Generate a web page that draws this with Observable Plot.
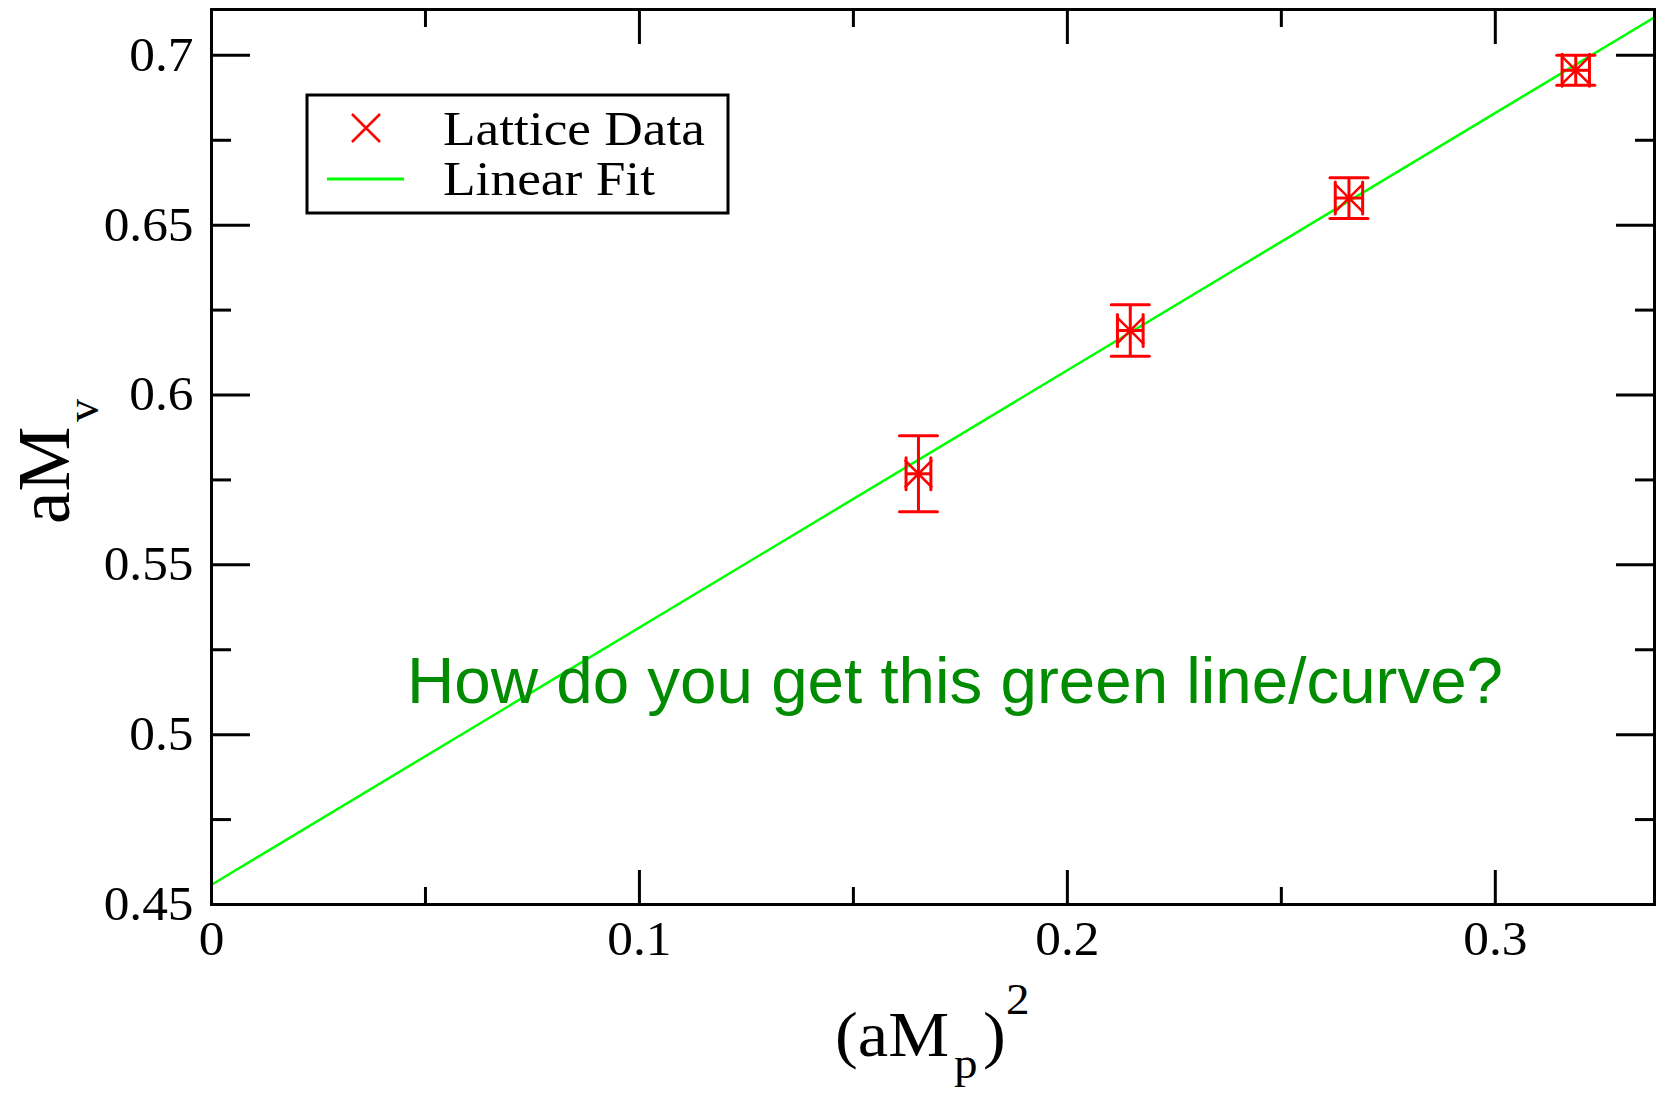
<!DOCTYPE html>
<html>
<head>
<meta charset="utf-8">
<script src="https://cdn.jsdelivr.net/npm/d3@7"></script>
<script src="https://cdn.jsdelivr.net/npm/@observablehq/plot@0.6"></script>
<style>
  body { margin: 0; background: #fff; }
  #chart { position: relative; width: 1657px; height: 1097px; }
</style>
</head>
<body>
<div id="chart"></div>
<script>
// Lattice measurements: (aM_p)^2 against aM_v with errors in both directions
const msq    = [0.1652, 0.2147, 0.2658, 0.3188];
const msqErr = [0.0029, 0.0030, 0.0032, 0.0032];
const mv     = [0.5768, 0.6190, 0.6580, 0.6956];
const mvErr  = [0.0112, 0.0076, 0.0060, 0.0044];

// Linear fit, given by its two end points across the x range
const fitX = [0, 0.3372];
const fitY = [0.4558, 0.7112];

// Axis ticks
const xMajor = [0, 0.1, 0.2, 0.3];
const xMinor = [0.05, 0.15, 0.25];
const yMajor = [0.45, 0.5, 0.55, 0.6, 0.65, 0.7];
const yMinor = [0.475, 0.525, 0.575, 0.625, 0.675];
const xTickLabels = ["0", "0.1", "0.2", "0.3"];
const yTickLabels = ["0.45", "0.5", "0.55", "0.6", "0.65", "0.7"];

const legendLabels = ["Lattice Data", "Linear Fit"];
const note = "How do you get this green line/curve?";

const points = msq.map((x, i) => ({x, y: mv[i], dx: msqErr[i], dy: mvErr[i]}));
const fit = fitX.map((x, i) => ({x, y: fitY[i]}));

const serif = "'Liberation Serif', 'Times New Roman', serif";
const red = "#ff0000";

// A straight stroke of the given length, used for error-bar caps
const bar = {draw(context, l) { context.moveTo(0, 0); context.lineTo(0, -l); }};

const xFmt = d => xTickLabels[xMajor.indexOf(d)];
const yFmt = d => yTickLabels[yMajor.indexOf(d)];

const plot = Plot.plot({
  width: 1657,
  height: 1097,
  marginLeft: 211,
  marginRight: 3,
  marginTop: 9,
  marginBottom: 193,
  x: {domain: [0, 0.3372]},
  y: {domain: [0.45, 0.7135]},
  style: {fontFamily: serif, background: "#fff", color: "#000", overflow: "visible"},
  marks: [
    // fit line
    Plot.line(fit, {x: "x", y: "y", stroke: "#00ff00", strokeWidth: 2.5, clip: true}),

    // vertical error bars with caps
    Plot.ruleX(points, {x: "x", y1: d => d.y - d.dy, y2: d => d.y + d.dy, stroke: red, strokeWidth: 3}),
    Plot.vector(points, {x: "x", y: d => d.y + d.dy, length: 38, rotate: 90, anchor: "middle", shape: bar, stroke: red, strokeWidth: 3}),
    Plot.vector(points, {x: "x", y: d => d.y - d.dy, length: 38, rotate: 90, anchor: "middle", shape: bar, stroke: red, strokeWidth: 3}),

    // horizontal error bars with caps
    Plot.ruleY(points, {y: "y", x1: d => d.x - d.dx, x2: d => d.x + d.dx, stroke: red, strokeWidth: 3}),
    Plot.vector(points, {x: d => d.x - d.dx, y: "y", length: 32, anchor: "middle", shape: bar, stroke: red, strokeWidth: 3}),
    Plot.vector(points, {x: d => d.x + d.dx, y: "y", length: 32, anchor: "middle", shape: bar, stroke: red, strokeWidth: 3}),

    // markers
    Plot.dot(points, {x: "x", y: "y", symbol: "times", r: 12.5, stroke: red, strokeWidth: 2.5}),

    // annotation
    Plot.text([note], {x: 0.0457, y: 0.5092, textAnchor: "start", lineAnchor: "bottom",
      fontFamily: "'Liberation Sans', Arial, sans-serif", fontSize: 65.5, fill: "#008b00"}),

    // tick labels
    Plot.axisX({ticks: xMajor, tickFormat: xFmt, tickSize: 0, tickPadding: 16, fontSize: 48, label: null, className: "widetext"}),
    Plot.axisY({ticks: yMajor, tickFormat: yFmt, tickSize: 0, tickPadding: 18, fontSize: 48, label: null, className: "widetext"}),

    // inward ticks on all four sides
    Plot.axisX({anchor: "bottom", ticks: xMajor, tickSize: -34, tickFormat: () => "", strokeWidth: 3, label: null}),
    Plot.axisX({anchor: "bottom", ticks: xMinor, tickSize: -17, tickFormat: () => "", strokeWidth: 3, label: null}),
    Plot.axisX({anchor: "top", ticks: xMajor, tickSize: -34, tickFormat: () => "", strokeWidth: 3, label: null}),
    Plot.axisX({anchor: "top", ticks: xMinor, tickSize: -17, tickFormat: () => "", strokeWidth: 3, label: null}),
    Plot.axisY({anchor: "left", ticks: yMajor, tickSize: -39, tickFormat: () => "", strokeWidth: 3, label: null}),
    Plot.axisY({anchor: "left", ticks: yMinor, tickSize: -20, tickFormat: () => "", strokeWidth: 3, label: null}),
    Plot.axisY({anchor: "right", ticks: yMajor, tickSize: -39, tickFormat: () => "", strokeWidth: 3, label: null}),
    Plot.axisY({anchor: "right", ticks: yMinor, tickSize: -20, tickFormat: () => "", strokeWidth: 3, label: null}),

    // axis titles, built from pieces for the sub- and superscripts
    Plot.text(["aM"], {frameAnchor: "left", rotate: -90, textAnchor: "start", lineAnchor: "bottom", dx: -143, dy: 67, fontSize: 73}),
    Plot.text(["v"], {frameAnchor: "left", rotate: -90, textAnchor: "start", lineAnchor: "bottom", dx: -114, dy: -35, fontSize: 46}),
    Plot.text(["(aM"], {frameAnchor: "bottom", textAnchor: "start", lineAnchor: "bottom", dx: -98, dy: 151, fontSize: 64, className: "widetext"}),
    Plot.text(["p"], {frameAnchor: "bottom", textAnchor: "start", lineAnchor: "bottom", dx: 21, dy: 173, fontSize: 44, className: "widetext"}),
    Plot.text([")"], {frameAnchor: "bottom", textAnchor: "start", lineAnchor: "bottom", dx: 50, dy: 151, fontSize: 64, className: "widetext"}),
    Plot.text(["2"], {frameAnchor: "bottom", textAnchor: "start", lineAnchor: "bottom", dx: 73, dy: 109, fontSize: 44, className: "widetext"}),

    Plot.frame({stroke: "#000", strokeWidth: 3})
  ]
});

document.getElementById("chart").appendChild(plot);

const svg = d3.select(plot);

// The serif labels are set slightly wide
svg.selectAll(".widetext text").each(function() {
  const t = this.getAttribute("transform") || "";
  this.setAttribute("transform", t + " scale(1.07,1)");
});

// Legend box in the upper left of the frame
const legendWidths = [262, 212];
const lg = svg.append("g").attr("font-family", serif).attr("font-size", 48).attr("text-anchor", "start");
lg.append("rect").attr("x", 307).attr("y", 95).attr("width", 421).attr("height", 118)
  .attr("fill", "#fff").attr("stroke", "#000").attr("stroke-width", 3);
lg.append("path").attr("d", "M352,114L380,142M380,114L352,142")
  .attr("stroke", red).attr("stroke-width", 2.5).attr("fill", "none");
lg.append("line").attr("x1", 327).attr("x2", 404).attr("y1", 179).attr("y2", 179)
  .attr("stroke", "#00ff00").attr("stroke-width", 3);
lg.selectAll("text.entry").data(legendLabels).join("text").attr("class", "entry")
  .attr("x", 443).attr("y", (d, i) => 145 + i * 50).attr("fill", "#000")
  .attr("textLength", (d, i) => legendWidths[i]).attr("lengthAdjust", "spacingAndGlyphs")
  .text(d => d);
</script>
</body>
</html>
